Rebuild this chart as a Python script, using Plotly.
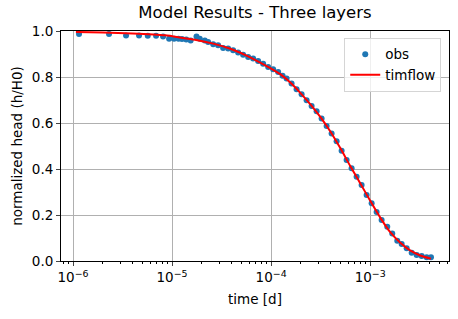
import plotly.graph_objects as go

# observations (time in days, normalized head)
obs_t = [1.150e-6, 2.31e-6, 3.43e-6, 4.64e-6, 5.68e-6, 6.89e-6, 8.11e-6, 9.33e-6,
         1.047e-5, 1.16e-5, 1.26e-5, 1.39e-5, 1.54e-5, 1.764e-5, 1.905e-5, 2.14e-5,
         2.31e-5, 2.60e-5, 2.915e-5, 3.275e-5, 3.68e-5, 4.13e-5, 4.64e-5, 5.21e-5,
         5.86e-5, 6.58e-5, 7.39e-5, 8.30e-5, 9.33e-5, 1.047e-4, 1.177e-4, 1.304e-4,
         1.431e-4, 1.607e-4, 1.806e-4, 2.029e-4, 2.279e-4, 2.560e-4, 2.875e-4,
         3.229e-4, 3.627e-4, 4.074e-4, 4.576e-4, 5.141e-4, 5.774e-4, 6.486e-4,
         7.285e-4, 8.183e-4, 9.19e-4, 1.033e-3, 1.160e-3, 1.303e-3, 1.485e-3,
         1.668e-3, 1.874e-3, 2.076e-3, 2.332e-3, 2.620e-3, 2.942e-3, 3.306e-3,
         3.713e-3, 4.104e-3]
obs_h = [0.987, 0.987, 0.980, 0.980, 0.979, 0.979, 0.976, 0.966,
         0.966, 0.966, 0.965, 0.963, 0.959, 0.976, 0.966, 0.959,
         0.952, 0.942, 0.938, 0.926, 0.924, 0.916, 0.906, 0.897,
         0.887, 0.880, 0.870, 0.858, 0.844, 0.834, 0.822, 0.805,
         0.793, 0.772, 0.747, 0.725, 0.699, 0.674, 0.651,
         0.620, 0.587, 0.554, 0.521, 0.479, 0.439, 0.403,
         0.366, 0.330, 0.287, 0.251, 0.213, 0.178, 0.149,
         0.120, 0.088, 0.074, 0.055, 0.036, 0.026, 0.022,
         0.016, 0.016]

# timflow model
mod_t = [1.07e-6, 2.0e-6, 4.0e-6, 8.5e-6, 1.2e-5, 1.7e-5, 2.6e-5, 3.8e-5, 5.5e-5,
         7.5e-5, 1.0e-4, 1.3e-4, 1.6e-4, 2.0e-4, 2.5e-4, 3.2e-4, 4.0e-4, 5.0e-4,
         6.3e-4, 8.0e-4, 1.0e-3, 1.3e-3, 1.6e-3, 2.0e-3, 2.5e-3, 3.2e-3, 4.1e-3]
mod_h = [0.996, 0.993, 0.989, 0.981, 0.972, 0.962, 0.945, 0.924, 0.895,
         0.866, 0.836, 0.805, 0.772, 0.728, 0.680, 0.621, 0.560, 0.490,
         0.412, 0.335, 0.262, 0.180, 0.124, 0.080, 0.047, 0.024, 0.010]

major = [1e-6, 1e-5, 1e-4, 1e-3]
major_text = ["10<sup>\u22126</sup>", "10<sup>\u22125</sup>", "10<sup>\u22124</sup>", "10<sup>\u22123</sup>"]
minor = [m * d for d in [1e-7, 1e-6, 1e-5, 1e-4, 1e-3] for m in range(2, 10)]

fig = go.Figure()
fig.add_trace(go.Scatter(x=obs_t, y=obs_h, mode="markers", name="obs",
                         marker=dict(color="#1f77b4", size=6)))
fig.add_trace(go.Scatter(x=mod_t, y=mod_h, mode="lines", name="timflow",
                         line=dict(color="red", width=2, shape="spline", smoothing=0.6)))

font = "DejaVu Sans"
fig.update_layout(
    width=458, height=319,
    margin=dict(l=61, r=9, t=31, b=58),
    paper_bgcolor="white", plot_bgcolor="white",
    font=dict(family=font, size=13, color="black"),
    title=dict(text="Model Results - Three layers", x=0.5, xref="paper",
               y=1, yref="container", yanchor="top", pad=dict(t=6),
               font=dict(family=font, size=16.5, color="black")),
    legend=dict(x=0.98, xanchor="right", y=0.97, yanchor="top", itemwidth=30,
                bgcolor="rgba(255,255,255,0.8)", bordercolor="#d5d5d5", borderwidth=1,
                font=dict(family=font, size=13.5)),
    xaxis=dict(type="log", range=[-6.1212, -2.205],
               tickvals=major, ticktext=major_text, ticks="outside", ticklen=4,
               tickfont=dict(size=13.5),
               showline=True, mirror=True, linecolor="black", linewidth=1,
               showgrid=True, gridcolor="#b0b0b0", gridwidth=1, zeroline=False,
               minor=dict(tickvals=minor, ticks="outside", ticklen=2, tickcolor="black",
                          showgrid=False),
               title=dict(text="time [d]", font=dict(family=font, size=13.5), standoff=10)),
    yaxis=dict(range=[0, 1], tickvals=[0, 0.2, 0.4, 0.6, 0.8, 1.0], tickformat=".1f",
               ticks="outside", ticklen=4, tickfont=dict(size=13.5),
               showline=True, mirror=True, linecolor="black",
               linewidth=1, showgrid=True, gridcolor="#b0b0b0", gridwidth=1, zeroline=False,
               title=dict(text="normalized head (h/H0)", font=dict(family=font, size=13.5),
                          standoff=6)),
)

fig.write_html("out.html")
